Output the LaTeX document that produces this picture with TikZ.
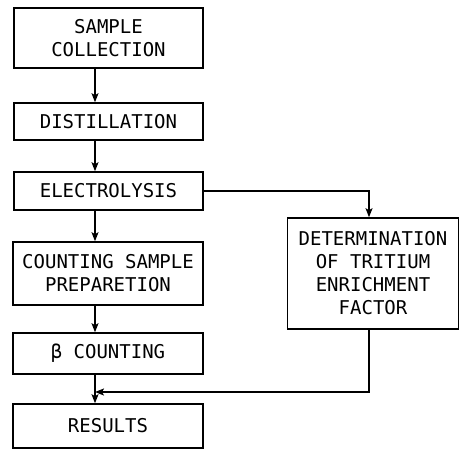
\documentclass[tikz,border=0pt]{standalone}
\usepackage{fontspec}
\setmonofont{DejaVu Sans Mono}
\usetikzlibrary{arrows.meta}
\begin{document}
\begin{tikzpicture}[x=1pt,y=-1pt,
  box/.style={draw,line width=1.6pt,rectangle,inner sep=0pt,align=center,
    font=\ttfamily\fontsize{19}{23}\selectfont},
  arr/.style={line width=1.5pt,-{Stealth[length=9pt,width=7pt,inset=2pt]}}]
\useasboundingbox (0,0) rectangle (460,450);
\node[box,minimum width=189pt,minimum height=60pt] (sc) at (108.5,38) {SAMPLE\\COLLECTION};
\node[box,minimum width=189pt,minimum height=37pt] (dist) at (108.5,121.5) {DISTILLATION};
\node[box,minimum width=189pt,minimum height=38pt] (elec) at (108.5,191) {ELECTROLYSIS};
\node[box,minimum width=190pt,minimum height=63pt] (csp) at (108,273.5) {COUNTING SAMPLE\\PREPARETION};
\node[box,minimum width=190pt,minimum height=41pt] (beta) at (108,353.5) {β COUNTING};
\node[box,minimum width=190pt,minimum height=44pt] (res) at (108,426) {RESULTS};
\node[box,minimum width=171pt,minimum height=111pt] (det) at (373,273.5) {DETERMINATION\\OF TRITIUM\\ENRICHMENT\\FACTOR};
\coordinate (col) at (95,0);
\coordinate (dcol) at (369,0);
\coordinate (jn) at (95,392);
\draw[arr] (sc.south -| col) -- (dist.north -| col);
\draw[arr] (dist.south -| col) -- (elec.north -| col);
\draw[arr] (elec.south -| col) -- (csp.north -| col);
\draw[arr] (csp.south -| col) -- (beta.north -| col);
\draw[arr] (beta.south -| col) -- (res.north -| col);
\draw[arr] (elec.east) -- (elec.east -| dcol) -- (det.north -| dcol);
\draw[arr] (det.south -| dcol) -- (dcol |- jn) -- (jn);
\end{tikzpicture}
\end{document}
